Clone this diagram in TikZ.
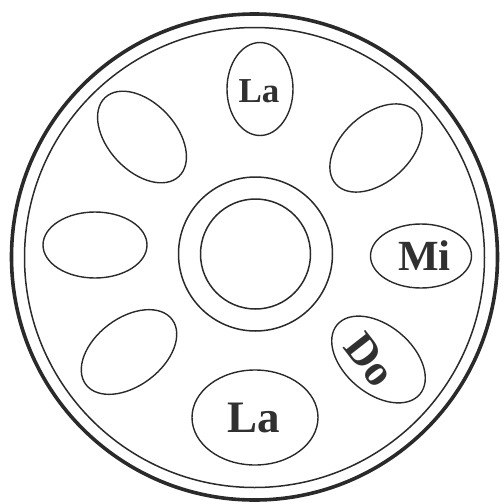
\documentclass[tikz,border=0pt]{standalone}
\usepackage{fontspec}
\setmainfont{Liberation Serif}
\usetikzlibrary{shapes.geometric}
\definecolor{ink}{HTML}{2A2A2A}
\definecolor{txt}{HTML}{303030}
\tikzset{
  hole/.style={ellipse, draw=ink, line width=1.4pt, inner sep=0pt},
  ring/.style={circle, draw=ink, inner sep=0pt},
  lbl/.style={text=txt, inner sep=0pt, font=\bfseries\fontsize{#1}{#1}\selectfont}
}
\begin{document}
\begin{tikzpicture}[x=1pt,y=-1pt]
\useasboundingbox (0,0) rectangle (504,504);
% rim
\node[ring, line width=3.6pt, minimum size=486pt] (rimout) at (254.5,257) {};
\node[ring, line width=1.5pt, minimum size=460pt] (rimin) at (254.5,257.5) {};
% centre
\node[ring, line width=1.5pt, minimum size=154pt] (cout) at (255.5,254) {};
\node[ring, line width=1.5pt, minimum size=110pt] (cin) at (255.5,254) {};
% holes
\node[hole, minimum width=66pt, minimum height=93pt] (topla) at (260,89) {};
\node[hole, minimum width=108pt, minimum height=68pt, rotate=-47] (ul) at (142,137) {};
\node[hole, minimum width=108pt, minimum height=68pt, rotate=42] (ur) at (376,148) {};
\node[hole, minimum width=104pt, minimum height=66pt] (l) at (95,245) {};
\node[hole, minimum width=101pt, minimum height=64pt] (mi) at (421,256) {};
\node[hole, minimum width=108pt, minimum height=68pt, rotate=37] (ll) at (129,352) {};
\node[hole, minimum width=108pt, minimum height=68pt, rotate=-40] (do) at (378.5,359.5) {};
\node[hole, minimum width=126pt, minimum height=95pt] (botla) at (255,417.5) {};
% labels
\node[lbl=35] (t1) at (259,91) {La};
\node[lbl=43] (t2) at (424.5,256) {Mi};
\node[lbl=44, rotate=-52] (t3) at (370,360) {Do};
\node[lbl=45] (t4) at (254,418) {La};
\end{tikzpicture}
\end{document}
